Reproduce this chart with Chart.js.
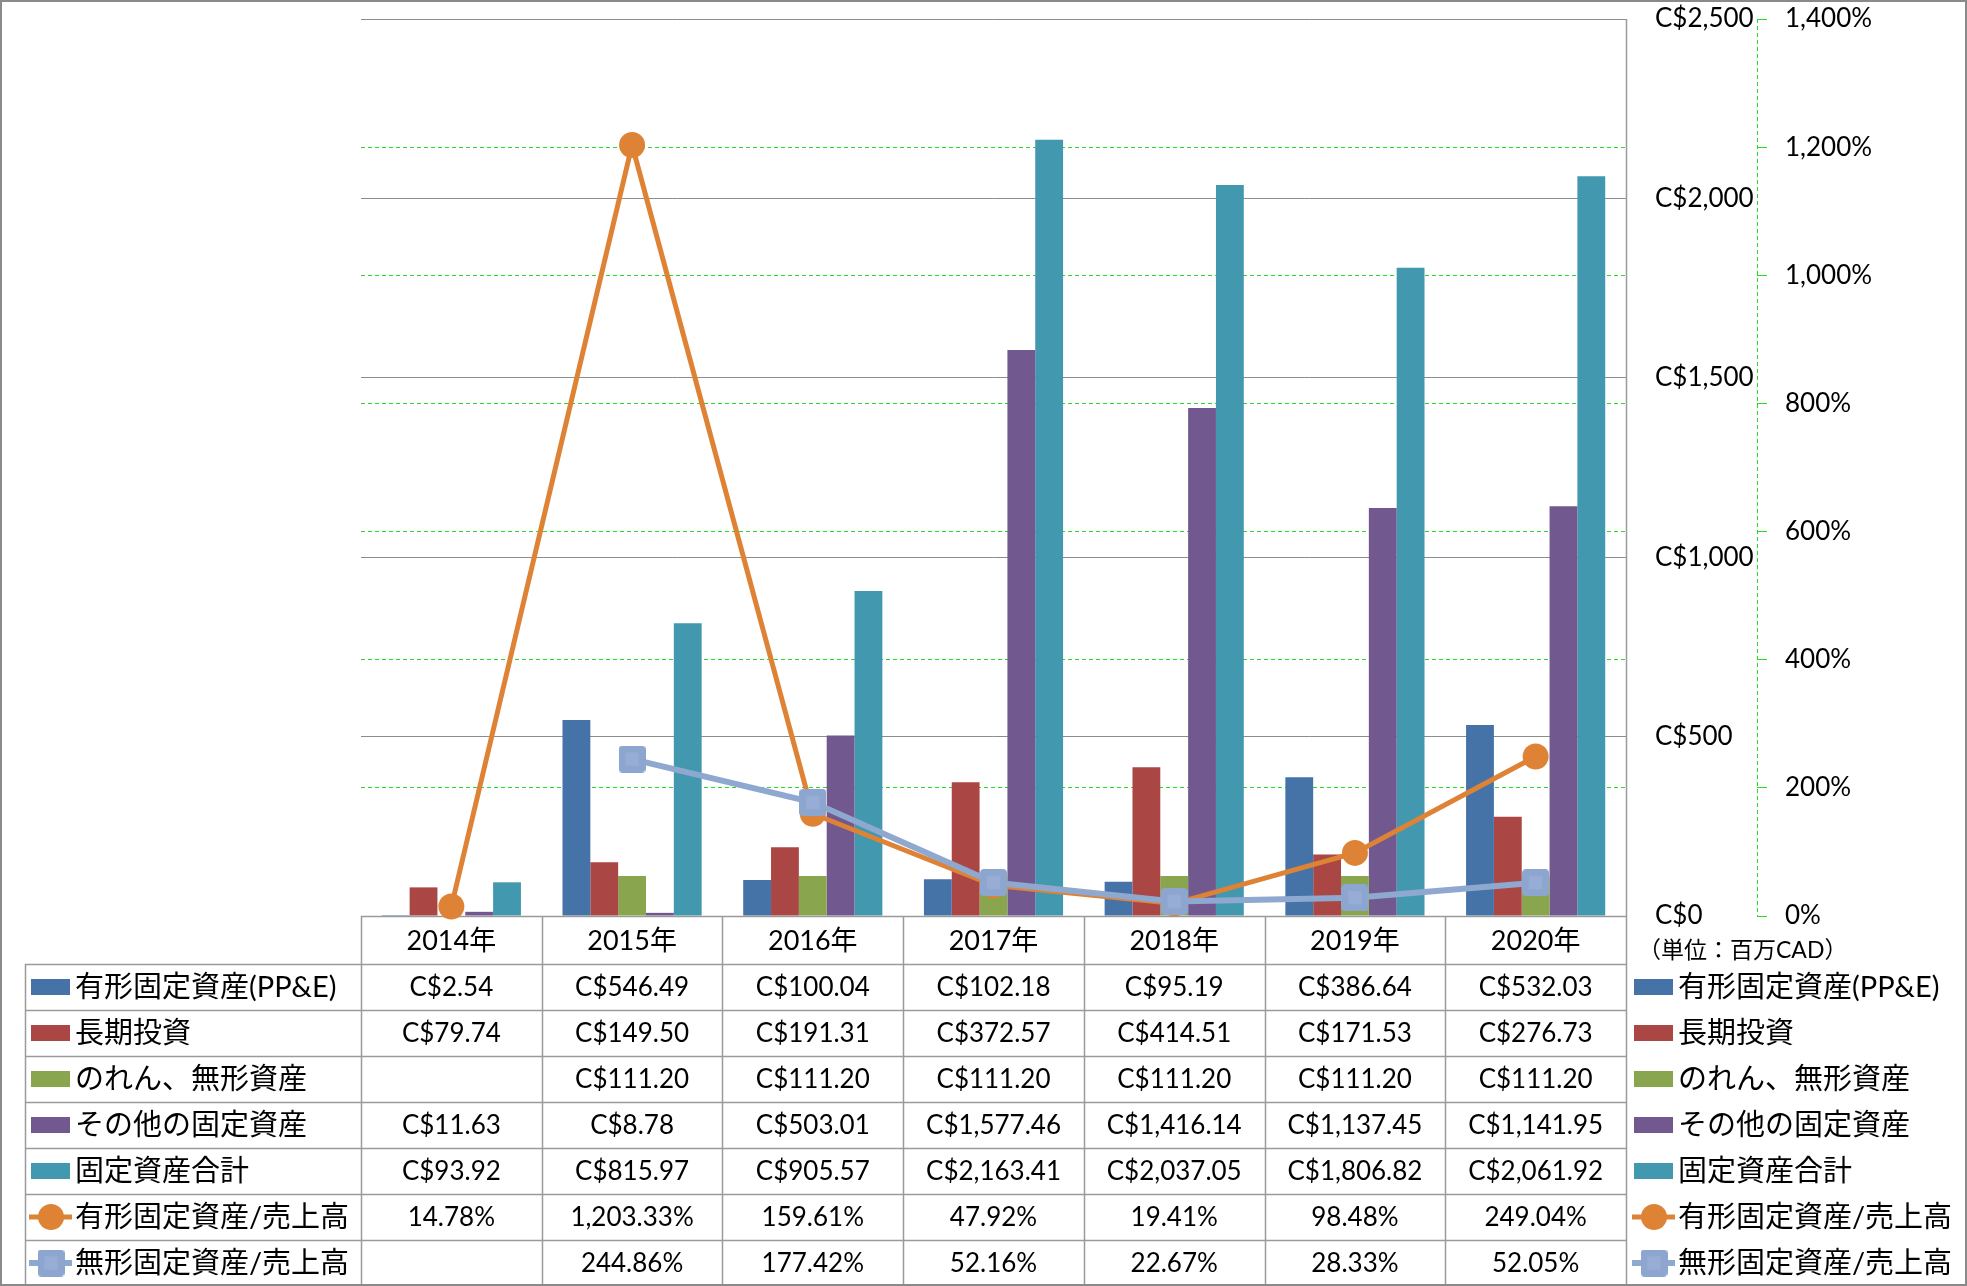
<!DOCTYPE html>
<html>
<head>
<meta charset="utf-8">
<script src="https://cdn.jsdelivr.net/npm/chart.js@4.4.1/dist/chart.umd.min.js"></script>
<style>
  body { margin: 0; background: #fff; }
  #wrap { width: 1967px; height: 1286px; }
</style>
</head>
<body>
<div id="wrap"><canvas id="FixedAssetChart" width="1967" height="1286"></canvas></div>
<script>
// categories
const years = ['2014年', '2015年', '2016年', '2017年', '2018年', '2019年', '2020年'];

// bar series (million CAD)
const ppe = [2.54, 546.49, 100.04, 102.18, 95.19, 386.64, 532.03];
const longInvest = [79.74, 149.50, 191.31, 372.57, 414.51, 171.53, 276.73];
const goodwill = [null, 111.20, 111.20, 111.20, 111.20, 111.20, 111.20];
const otherFixed = [11.63, 8.78, 503.01, 1577.46, 1416.14, 1137.45, 1141.95];
const totalFixed = [93.92, 815.97, 905.57, 2163.41, 2037.05, 1806.82, 2061.92];

// line series (%)
const ppeRatio = [14.78, 1203.33, 159.61, 47.92, 19.41, 98.48, 249.04];
const intangRatio = [null, 244.86, 177.42, 52.16, 22.67, 28.33, 52.05];

// axis ticks
const cadMax = 2500, cadStep = 500;
const pctMax = 1400, pctStep = 200;

const unitLabel = '（単位：百万CAD）';

const numFont = '26px Lato, "Noto Sans CJK JP"';
const labelFont = '29px Lato, "Noto Sans CJK JP"';
const tickFont = { family: 'Lato, "Noto Sans CJK JP"', size: 26 };

function cad(v) {
    if (v == null) return '';
    return 'C$' + v.toLocaleString('en-US', { minimumFractionDigits: 2, maximumFractionDigits: 2 });
}
function pct(v) {
    if (v == null) return '';
    return v.toLocaleString('en-US', { minimumFractionDigits: 2, maximumFractionDigits: 2 }) + '%';
}

// rounded square marker like the original
function squareMarker(size) {
    let c = document.createElement('canvas');
    c.width = size; c.height = size;
    let g = c.getContext('2d');
    let r = 4;
    g.fillStyle = '#8DA6CF';
    g.beginPath();
    g.moveTo(r, 0);
    g.arcTo(size, 0, size, size, r);
    g.arcTo(size, size, 0, size, r);
    g.arcTo(0, size, 0, 0, r);
    g.arcTo(0, 0, size, 0, r);
    g.closePath();
    g.fill();
    g.fillStyle = '#98ADD5';
    g.fillRect(size * 0.25, size * 0.25, size * 0.5, size * 0.5);
    return c;
}
const square = squareMarker(27);

function drawMarker(ctx, ds, x, y) {
    if (ds.pointStyle === 'circle') {
        ctx.fillStyle = ds.pointBackgroundColor;
        ctx.beginPath();
        ctx.arc(x, y, 13, 0, Math.PI * 2);
        ctx.fill();
    } else {
        ctx.drawImage(ds.pointStyle, x - ds.pointStyle.width / 2, y - ds.pointStyle.height / 2);
    }
}

function drawLegendRow(ctx, ds, x0, y) {
    if (ds.type === 'line') {
        ctx.strokeStyle = ds.borderColor;
        ctx.lineWidth = ds.borderWidth;
        ctx.beginPath();
        ctx.moveTo(x0 - 2, y);
        ctx.lineTo(x0 + 41, y);
        ctx.stroke();
        drawMarker(ctx, ds, x0 + 20, y);
    } else {
        ctx.fillStyle = ds.backgroundColor;
        ctx.fillRect(x0, y - 8, 39, 16);
    }
    ctx.fillStyle = '#000';
    ctx.font = labelFont;
    ctx.textAlign = 'left';
    ctx.fillText(ds.label, x0 + 44, y + 1);
}

const tablePlugin = {
    id: 'dataTable',
    beforeDatasetsDraw(chart) {
        const ctx = chart.ctx;
        const area = chart.chartArea;
        const xs = chart.scales.x;
        const sets = chart.data.datasets;
        const colW = (area.right - area.left) / years.length;
        const headBottom = area.bottom + 48;
        const rowH = 46;
        const bottom = headBottom + rowH * sets.length;
        const px = v => Math.round(v) + 0.5;

        ctx.save();
        ctx.strokeStyle = '#9a9a9a';
        ctx.lineWidth = 1.5;
        ctx.beginPath();
        ctx.moveTo(area.left, px(area.bottom));
        ctx.lineTo(area.right, px(area.bottom));
        for (let k = 0; k <= sets.length; k++) {
            ctx.moveTo(25, px(headBottom + k * rowH));
            ctx.lineTo(area.right, px(headBottom + k * rowH));
        }
        ctx.moveTo(px(25), headBottom);
        ctx.lineTo(px(25), bottom);
        for (let i = 0; i <= years.length; i++) {
            let x = px(area.left + i * colW);
            ctx.moveTo(x, i === years.length ? area.top : area.bottom);
            ctx.lineTo(x, bottom);
        }
        ctx.stroke();

        // green dashed axis line of the % scale
        const y1 = chart.scales.y1;
        ctx.strokeStyle = '#22dd22';
        ctx.lineWidth = 1;
        ctx.setLineDash([4, 3]);
        ctx.beginPath();
        ctx.moveTo(px(y1.left), area.top);
        ctx.lineTo(px(y1.left), area.bottom);
        ctx.stroke();
        ctx.setLineDash([]);

        ctx.textBaseline = 'middle';
        ctx.textAlign = 'center';
        ctx.fillStyle = '#000';
        ctx.font = '27px Lato, "Noto Sans CJK JP"';
        years.forEach((yr, i) => {
            ctx.fillText(yr, xs.getPixelForValue(i), area.bottom + 25);
        });

        sets.forEach((ds, k) => {
            let yc = headBottom + k * rowH + rowH / 2;
            ctx.font = numFont;
            ctx.textAlign = 'center';
            ctx.fillStyle = '#000';
            ds.data.forEach((v, i) => {
                let s = ds.type === 'line' ? pct(v) : cad(v);
                ctx.fillText(s, xs.getPixelForValue(i), yc + 1);
            });
            drawLegendRow(ctx, ds, 31, yc);
            drawLegendRow(ctx, ds, 1634, yc);
        });

        ctx.font = '23px Lato, "Noto Sans CJK JP"';
        ctx.textAlign = 'left';
        ctx.fillStyle = '#000';
        ctx.fillText(unitLabel, 1638, area.bottom + 35);
        ctx.restore();
    },
    afterDraw(chart) {
        const ctx = chart.ctx;
        ctx.save();
        ctx.strokeStyle = '#8a8a8a';
        ctx.lineWidth = 2;
        ctx.strokeRect(1, 1, chart.width - 2, chart.height - 2);
        ctx.restore();
    }
};

function noPad(s, w) {
    s.width = w;
    s.paddingTop = 0;
    s.paddingBottom = 0;
}

function MakeFixedAssetChart() {
    let ctx = document.getElementById('FixedAssetChart').getContext('2d');

    let data = {
        labels: years,
        datasets: [
            { type: 'bar', label: '有形固定資産(PP&E)', data: ppe, backgroundColor: '#4572A7', order: 3 },
            { type: 'bar', label: '長期投資', data: longInvest, backgroundColor: '#AA4643', order: 3 },
            { type: 'bar', label: 'のれん、無形資産', data: goodwill, backgroundColor: '#89A54E', order: 3 },
            { type: 'bar', label: 'その他の固定資産', data: otherFixed, backgroundColor: '#71588F', order: 3 },
            { type: 'bar', label: '固定資産合計', data: totalFixed, backgroundColor: '#4198AF', order: 3 },
            {
                type: 'line', label: '有形固定資産/売上高', data: ppeRatio, yAxisID: 'y1',
                borderColor: '#DE8336', borderWidth: 5, pointStyle: 'circle', pointRadius: 13,
                pointBackgroundColor: '#DE8336', pointBorderWidth: 0, clip: false, order: 2
            },
            {
                type: 'line', label: '無形固定資産/売上高', data: intangRatio, yAxisID: 'y1',
                borderColor: '#8EA8D0', borderWidth: 6, pointStyle: square, pointRadius: 13,
                pointBackgroundColor: '#8EA8D0', pointBorderWidth: 0, clip: false, order: 1
            }
        ]
    };

    new Chart(ctx, {
        type: 'bar',
        data: data,
        plugins: [tablePlugin],
        options: {
            responsive: false,
            devicePixelRatio: 1,
            animation: false,
            layout: { padding: { left: 361, top: 19, right: 0, bottom: 0 } },
            datasets: { bar: { categoryPercentage: 0.77, barPercentage: 1.0, borderWidth: 0 } },
            plugins: { legend: { display: false }, tooltip: { enabled: false } },
            scales: {
                x: {
                    ticks: { display: false },
                    grid: { display: false },
                    border: { display: false },
                    afterFit: s => { s.height = 370; s.paddingLeft = 0; s.paddingRight = 0; }
                },
                y: {
                    position: 'right',
                    weight: 0,
                    min: 0, max: cadMax,
                    ticks: {
                        stepSize: cadStep, padding: 29, color: '#000', font: tickFont,
                        callback: v => 'C$' + v.toLocaleString('en-US')
                    },
                    grid: { color: '#8c8c8c', lineWidth: 1, drawTicks: false },
                    border: { display: false },
                    afterFit: s => noPad(s, 131)
                },
                y1: {
                    position: 'right',
                    weight: 1,
                    min: 0, max: pctMax,
                    ticks: {
                        stepSize: pctStep, padding: 18, color: '#000', font: tickFont,
                        callback: v => v.toLocaleString('en-US') + '%'
                    },
                    grid: {
                        color: c => (c.tick && (c.tick.value === 0 || c.tick.value === pctMax)) ? 'rgba(0,0,0,0)' : '#22dd22',
                        tickColor: '#22dd22',
                        lineWidth: 1, tickLength: 10
                    },
                    border: { display: false, dash: [4, 3] },
                    afterFit: s => noPad(s, 210)
                }
            }
        }
    });
}

MakeFixedAssetChart();
</script>
</body>
</html>
